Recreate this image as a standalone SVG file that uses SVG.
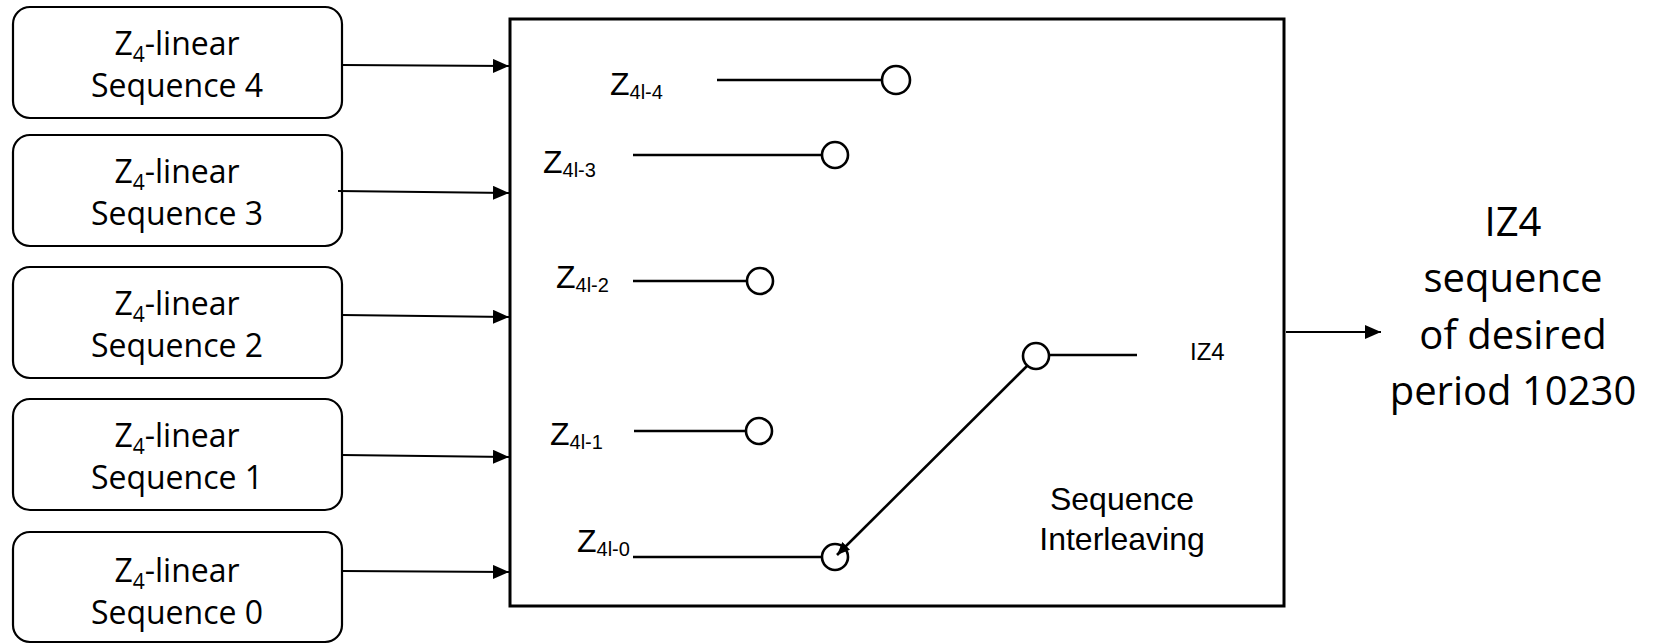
<svg xmlns="http://www.w3.org/2000/svg" width="1659" height="644" viewBox="0 0 1659 644">
<style>
.box{fill:#fff;stroke:#000;stroke-width:2.2}
.btxt{font-family:"Open Sans","Liberation Sans",sans-serif;font-size:32px;fill:#000;text-anchor:middle}
.sub{font-size:21px}
.conn{stroke:#000;stroke-width:2;fill:none}
.wire{stroke:#000;stroke-width:2.6;fill:none}
.node{fill:#fff;stroke:#000;stroke-width:2.6}
.lbl{font-family:"Liberation Sans",Arial,sans-serif;font-size:32px;fill:#000}
.lsub{font-size:20px}
.out{font-family:"Open Sans","Liberation Sans",sans-serif;font-size:40px;fill:#000;text-anchor:middle}
</style>
<defs>
<marker id="ah" markerUnits="userSpaceOnUse" markerWidth="16" markerHeight="14" refX="16" refY="7" orient="auto">
<path d="M0,0 L16,7 L0,14 Z" fill="#000"/>
</marker>
<marker id="ahs" markerUnits="userSpaceOnUse" markerWidth="13" markerHeight="11" refX="13" refY="5.5" orient="auto">
<path d="M0,0 L13,5.5 L0,11 Z" fill="#000"/>
</marker>
</defs>

<g id="seq4">
<rect class="box" x="13" y="7" width="329" height="111" rx="17"/>
<text class="btxt" x="177" y="55">Z<tspan class="sub" dy="7">4</tspan><tspan dy="-7">-linear</tspan></text>
<text class="btxt" x="177" y="97">Sequence 4</text>
</g>
<g id="seq3">
<rect class="box" x="13" y="135" width="329" height="111" rx="17"/>
<text class="btxt" x="177" y="183">Z<tspan class="sub" dy="7">4</tspan><tspan dy="-7">-linear</tspan></text>
<text class="btxt" x="177" y="225">Sequence 3</text>
</g>
<g id="seq2">
<rect class="box" x="13" y="267" width="329" height="111" rx="17"/>
<text class="btxt" x="177" y="315">Z<tspan class="sub" dy="7">4</tspan><tspan dy="-7">-linear</tspan></text>
<text class="btxt" x="177" y="357">Sequence 2</text>
</g>
<g id="seq1">
<rect class="box" x="13" y="399" width="329" height="111" rx="17"/>
<text class="btxt" x="177" y="447">Z<tspan class="sub" dy="7">4</tspan><tspan dy="-7">-linear</tspan></text>
<text class="btxt" x="177" y="489">Sequence 1</text>
</g>
<g id="seq0">
<rect class="box" x="13" y="532" width="329" height="110" rx="17"/>
<text class="btxt" x="177" y="582">Z<tspan class="sub" dy="7">4</tspan><tspan dy="-7">-linear</tspan></text>
<text class="btxt" x="177" y="624">Sequence 0</text>
</g>

<g id="interleaver">
<rect x="510" y="19" width="774" height="587" fill="none" stroke="#000" stroke-width="3"/>
<text class="lbl" x="610" y="95">Z<tspan class="lsub" dy="4">4l-4</tspan></text>
<text class="lbl" x="543" y="173">Z<tspan class="lsub" dy="4">4l-3</tspan></text>
<text class="lbl" x="556" y="288">Z<tspan class="lsub" dy="4">4l-2</tspan></text>
<text class="lbl" x="550" y="445">Z<tspan class="lsub" dy="4">4l-1</tspan></text>
<text class="lbl" x="577" y="552">Z<tspan class="lsub" dy="4">4l-0</tspan></text>
<line class="wire" x1="717" y1="80" x2="882" y2="80"/>
<circle class="node" cx="896" cy="80" r="14"/>
<line class="wire" x1="633" y1="155" x2="822" y2="155"/>
<circle class="node" cx="835" cy="155" r="13"/>
<line class="wire" x1="633" y1="281" x2="747" y2="281"/>
<circle class="node" cx="760" cy="281" r="13"/>
<line class="wire" x1="634" y1="431" x2="746" y2="431"/>
<circle class="node" cx="759" cy="431" r="13"/>
<line class="wire" x1="633" y1="557" x2="822" y2="557"/>
<circle class="node" cx="835" cy="557" r="13"/>
<circle class="node" cx="1036" cy="356" r="13"/>
<line class="wire" x1="1049" y1="355" x2="1137" y2="355"/>
<line class="wire" x1="1027" y1="366" x2="837" y2="555" marker-end="url(#ahs)"/>
<text class="lbl" x="1190" y="360" style="font-size:24px">IZ4</text>
<text class="lbl" x="1122" y="510" text-anchor="middle">Sequence</text>
<text class="lbl" x="1122" y="550" text-anchor="middle">Interleaving</text>
</g>

<g id="output">
<text class="out" x="1513" y="236">IZ4</text>
<text class="out" x="1513" y="292">sequence</text>
<text class="out" x="1513" y="349">of desired</text>
<text class="out" x="1513" y="405">period 10230</text>
</g>

<g id="connectors">
<line class="conn" x1="342" y1="65" x2="509" y2="66" marker-end="url(#ah)"/>
<line class="conn" x1="338" y1="191" x2="509" y2="193" marker-end="url(#ah)"/>
<line class="conn" x1="342" y1="315" x2="509" y2="317" marker-end="url(#ah)"/>
<line class="conn" x1="342" y1="455" x2="509" y2="457" marker-end="url(#ah)"/>
<line class="conn" x1="342" y1="571" x2="509" y2="572" marker-end="url(#ah)"/>
<line class="conn" x1="1286" y1="332" x2="1381" y2="332" marker-end="url(#ah)"/>
</g>
</svg>
